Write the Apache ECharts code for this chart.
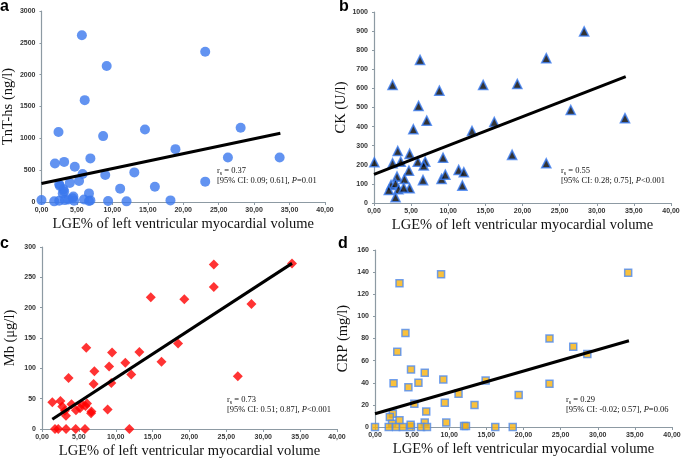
<!DOCTYPE html>
<html><head><meta charset="utf-8">
<script src="https://cdn.jsdelivr.net/npm/echarts@6/dist/echarts.min.js"></script>
<style>html,body{margin:0;padding:0;background:#fff}#c{width:684px;height:460px}</style>
</head><body><div id="c"></div>
<script>
// Panel a: TnT-hs
const aX = [5.7,9.2,6.1,2.4,14.6,8.7,18.9,1.9,3.2,4.7,6.9,5.8,9.0,13.1,16.0,11.1,5.3,4.0,2.5,3.2,4.5,6.7,3.0,0.0,1.8,2.5,3.3,3.8,4.6,6.0,6.7,6.9,9.4,12.0,18.2,23.1,28.1,26.3,33.6,23.1,2.6,3.1,4.4];
const aY = [2620,2135,1600,1100,1140,1035,830,605,630,555,685,440,425,465,240,210,330,300,280,165,85,135,135,30,10,20,30,40,20,40,15,25,15,10,25,2360,1165,700,700,320,250,200,60];
const aLine = [[0,290],[33.7,1080]];
// Panel b: CK
const bX = [6.2,2.5,14.7,19.3,8.8,6.0,7.1,5.3,16.2,13.2,0.05,3.2,4.8,2.5,3.6,5.9,6.9,6.7,9.3,4.7,11.4,12.1,18.6,6.6,9.1,9.6,11.9,3.1,4.1,2.3,2.0,2.9,3.3,4.8,2.9,4.0,28.3,23.2,26.5,33.8,23.2];
const bY = [749,618,618,623,588,508,431,386,424,377,213,272,257,208,216,216,216,196,237,169,173,161,252,120,126,148,91,138,126,94,68,103,72,77,30,80,898,758,487,444,208];
const bLine = [[0,150],[33.9,662]];
// Panel c: Mb
const cX = [14.75,6.0,9.5,13.2,11.3,9.1,12.1,16.2,18.45,3.6,7.1,7.0,9.4,1.4,2.5,2.75,4.0,5.4,6.1,4.6,3.1,3.25,6.65,6.7,8.9,5.15,5.9,1.76,2.2,3.26,4.57,5.83,11.85,33.9,23.3,23.3,19.3,28.4,26.55];
const cY = [217,134,126,127,109,103,90,111,141,84,95,74,76,44,46,37,41,41,42,31,30,22,26,29,32,34,38,0,0,0,0,0,0,273,271,234,214,206,87];
const cLine = [[1.4,16],[33.9,273]];
// Panel d: CRP
const dX = [8.9,3.3,4.1,3.0,4.85,6.7,9.2,14.9,2.5,4.5,5.85,11.25,19.35,5.3,9.4,13.4,6.9,2.4,2.0,3.3,2.3,9.6,6.7,0.0,1.85,2.85,3.75,4.85,6.2,7.0,12.0,12.25,16.2,18.55,34.1,23.5,26.7,28.6,23.5,4.8];
const dY = [138,130,85,68,52,49,43,42,39.5,36,40,30,29,21,22,20,14,12,9,6,3,4,4,0,0,0,0,0,0,0,1,1,0,0,139.5,80,72.6,66,39,2];
const dLine = [[0,12],[34.2,78]];
const xName = 'LGE% of left ventricular myocardial volume';
const yNames = ['TnT-hs (ng/l)','CK (U/l)','Mb (\u03bcg/l)','CRP (mg/l)'];
const yMax = [3000,1000,300,160];
const yInt = [500,100,50,20];
const annot = [['0.37','0.09; 0.61','=0.01'],['0.55','0.28; 0.75','<0.001'],['0.73','0.51; 0.87','<0.001'],['0.29','-0.02; 0.57','=0.06']];
const letters = ['a','b','c','d'];

const grids = [
  {left:37, top:11, width:288, height:191},
  {left:374, top:12, width:297, height:191},
  {left:42, top:247, width:295, height:184},
  {left:375, top:250, width:297, height:177}
];
const axisCol = '#8d9aa3';
const serif = 'Liberation Serif';
const xAxes = grids.map((g,i)=>({
  gridIndex:i, type:'value', min:0, max:40, interval:5,
  name: xName, nameLocation:'middle', nameGap:15,
  nameTextStyle:{fontFamily:serif, fontSize:14.5, color:'#111', verticalAlign:'top'},
  axisLine:{lineStyle:{color:axisCol, width:1.2}},
  axisTick:{show:true, length:3, lineStyle:{color:axisCol}},
  splitLine:{show:false},
  axisLabel:{margin:5, fontSize:7, color:'#333', fontFamily:'Liberation Sans', fontWeight:'bold',
    formatter:v=>v.toFixed(2).replace('.',',')}
}));
const yAxes = grids.map((g,i)=>({
  gridIndex:i, type:'value', min:0, max:yMax[i], interval:yInt[i],
  name: yNames[i], nameLocation:'middle', nameGap:24,
  nameTextStyle:{fontFamily:serif, fontSize:14.5, color:'#111'},
  axisLine:{show:true, lineStyle:{color:axisCol, width:1.2}},
  axisTick:{show:true, length:2, lineStyle:{color:axisCol}},
  splitLine:{show:false},
  axisLabel:{margin:6, fontSize:7, color:'#333', fontFamily:'Liberation Sans', fontWeight:'bold',
    formatter:v=>String(v)}
}));
const zip = (xs,ys)=>xs.map((x,k)=>[x,ys[k]]);
const markers = [
  {symbol:'circle', symbolSize:10, itemStyle:{color:'#3b78ee'}},
  {symbol:'triangle', symbolSize:9, itemStyle:{color:'#000', borderColor:'#3b7cf0', borderWidth:1.6}},
  {symbol:'diamond', symbolSize:10, itemStyle:{color:'#ff0000'}},
  {symbol:'rect', symbolSize:7, itemStyle:{color:'#f7b20c', borderColor:'#4f8bf0', borderWidth:1.5}}
];
const data = [zip(aX,aY),zip(bX,bY),zip(cX,cY),zip(dX,dY)];
const lines = [aLine,bLine,cLine,dLine];
const series = [];
data.forEach((d,i)=>{
  series.push(Object.assign({type:'scatter', xAxisIndex:i, yAxisIndex:i, data:d, z:2, silent:true}, markers[i]));
  series.push({type:'line', xAxisIndex:i, yAxisIndex:i, data:lines[i], symbol:'none', z:3, silent:true,
    lineStyle:{color:'#000', width:3}});
});
const annPos = [[217,166],[561,166],[227,395],[566,395]];
const letPos = [[0,-1],[339,-1],[0,236],[338,236]];
const graphic = [];
annot.forEach((a,i)=>{
  graphic.push({type:'text', left:annPos[i][0], top:annPos[i][1], silent:true,
    style:{text:'{n|r}{s|s}{n| = '+a[0]+'}\n{n|[95% CI: '+a[1]+'], }{i|P}{n|'+a[2]+'}',
      rich:{n:{fontFamily:serif, fontSize:8.5, fill:'#111', lineHeight:10},
            i:{fontFamily:serif, fontSize:8.5, fontStyle:'italic', fill:'#111', lineHeight:10},
            s:{fontFamily:serif, fontSize:6, fill:'#111', lineHeight:10, padding:[4,0,0,0]}}}});
  graphic.push({type:'text', left:letPos[i][0], top:letPos[i][1], silent:true,
    style:{text:letters[i], fontFamily:'Liberation Sans', fontWeight:'bold', fontSize:16, fill:'#000'}});
});
const chart = echarts.init(document.getElementById('c'), null, {renderer:'canvas'});
chart.setOption({animation:false, grid:grids, xAxis:xAxes, yAxis:yAxes, series:series, graphic:graphic});
</script></body></html>
